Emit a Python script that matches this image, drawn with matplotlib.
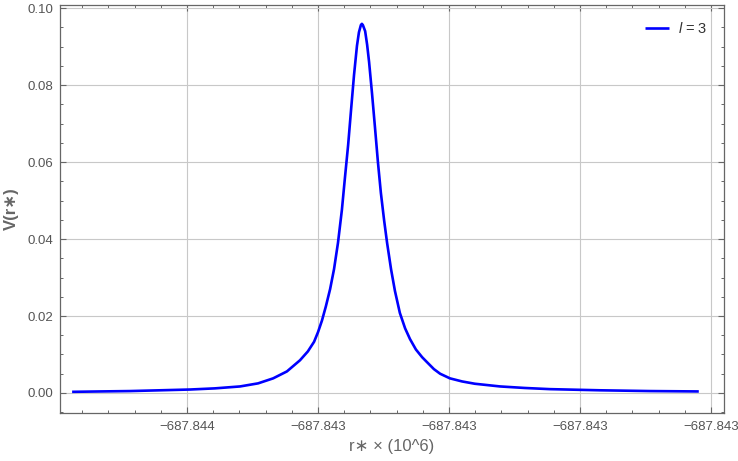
import matplotlib
matplotlib.use("Agg")
import matplotlib.pyplot as plt
from matplotlib.ticker import FixedLocator, FuncFormatter, MultipleLocator

plt.rcParams['font.family'] = ['Liberation Sans', 'DejaVu Sans']
plt.rcParams['mathtext.fontset'] = 'custom'
plt.rcParams['mathtext.it'] = 'Liberation Sans:italic'
plt.rcParams['mathtext.rm'] = 'Liberation Sans'

# r* x 10^6
r_star = [-687.8435551, -687.8435466, -687.8435374, -687.8435282, -687.8435191,
          -687.8435115, -687.8435038, -687.8434983, -687.8434937, -687.8434895,
          -687.8434855, -687.8434831, -687.8434812, -687.8434800, -687.8434788,
          -687.8434776, -687.8434763, -687.8434751, -687.8434739, -687.8434727,
          -687.8434718, -687.8434708, -687.8434699, -687.8434690, -687.8434681,
          -687.8434675, -687.8434669, -687.8434666, -687.8434663, -687.8434656,
          -687.8434650, -687.8434644, -687.8434635, -687.8434626, -687.8434617,
          -687.8434608, -687.8434598, -687.8434589, -687.8434577, -687.8434565,
          -687.8434550, -687.8434534, -687.8434519, -687.8434501, -687.8434482,
          -687.8434467, -687.8434446, -687.8434427, -687.8434397, -687.8434360,
          -687.8434321, -687.8434244, -687.8434168, -687.8434092, -687.8433939,
          -687.8433786, -687.8433637]
V = [0.0003, 0.0004, 0.0005, 0.0007, 0.0009,
     0.0012, 0.0017, 0.0025, 0.0038, 0.0056,
     0.0085, 0.0108, 0.0133, 0.0158, 0.0188,
     0.0225, 0.0270, 0.0322, 0.0390, 0.0476,
     0.0557, 0.0644, 0.0736, 0.0826, 0.0902,
     0.0937, 0.0956, 0.0959, 0.0956, 0.0940,
     0.0905, 0.0860, 0.0778, 0.0690, 0.0600,
     0.0520, 0.0448, 0.0390, 0.0322, 0.0265,
     0.0208, 0.0168, 0.0140, 0.0113, 0.0093,
     0.0080, 0.0062, 0.0050, 0.0038, 0.0030,
     0.0024, 0.0017, 0.0013, 0.0010, 0.0007,
     0.0005, 0.0004]

x_ticks = [-687.84352, -687.84348, -687.84344, -687.84340, -687.84336]
y_ticks = [0.00, 0.02, 0.04, 0.06, 0.08, 0.10]
label = r'$l$ = 3'

fig = plt.figure(figsize=(7.38, 4.61), dpi=100)
ax = fig.add_axes([60/738, 48/461, 664/738, 408/461])

ax.plot(r_star, V, color='#0000ff', lw=1.9, label=label,
        solid_joinstyle='round', solid_capstyle='butt')

ax.set_xlim(-687.8435588, -687.8433560)
ax.set_ylim(-0.0052, 0.1008)

ax.xaxis.set_major_locator(FixedLocator(x_ticks))
ax.xaxis.set_minor_locator(MultipleLocator(0.000008))
ax.xaxis.set_major_formatter(FuncFormatter(lambda v, p: ('%.3f' % v).replace('-', '\u2212')))
ax.yaxis.set_major_locator(FixedLocator(y_ticks))
ax.yaxis.set_minor_locator(MultipleLocator(0.005))
ax.yaxis.set_major_formatter(FuncFormatter(lambda v, p: '%.2f' % v))

ax.grid(True, which='major', color='#c8c8c8', lw=0.8)
ax.set_axisbelow(True)

for s in ax.spines.values():
    s.set_color('#666666')
    s.set_linewidth(0.9)

ax.tick_params(which='both', direction='in', top=True, right=True, color='#666666',
               labelcolor='#555555', labelsize=9.5)
ax.tick_params(which='major', length=4, width=0.8)
ax.tick_params(which='minor', length=2.5, width=0.7)
ax.tick_params(axis='x', pad=6)
ax.tick_params(axis='y', pad=5)

ax.set_xlabel('r\u2217 \u00d7 (10^6)', fontsize=12, color='#666666', labelpad=4)
ax.set_ylabel('V(r\u2217)', fontsize=12, fontweight='bold', color='#666666', labelpad=6)

leg = ax.legend(loc='upper right', frameon=False, fontsize=10.5, handlelength=1.65,
                handletextpad=0.6, borderaxespad=0.3, bbox_to_anchor=(0.99, 0.985))
for t in leg.get_texts():
    t.set_color('#333333')

fig.savefig('out.png', dpi=100)
